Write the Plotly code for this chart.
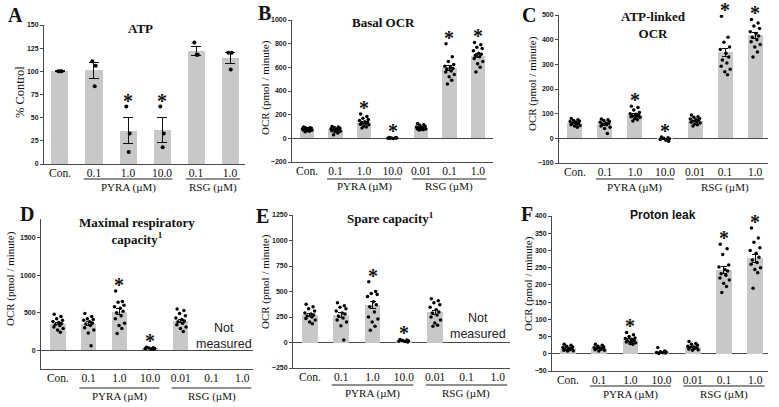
import plotly.graph_objects as go

W, H = 779, 407

# ---------------- data ----------------
cats_A = ["Con.", "0.1", "1.0", "10.0", "0.1", "1.0"]
cats_OCR = ["Con.", "0.1", "1.0", "10.0", "0.01", "0.1", "1.0"]
groups_A = [("PYRA (µM)", 1, 3), ("RSG (µM)", 4, 5)]
groups_OCR = [("PYRA (µM)", 1, 3), ("RSG (µM)", 4, 6)]

# A: ATP (% control)
atp_mean = [100, 101, 36, 37, 122, 114]
atp_sem = [0.4, 8.6, 14.4, 13.5, 4.5, 5.8]
atp_pts = [[100, 100, 100], [111, 106, 84], [62, 33, 13], [62, 33, 18],
           [131, 118, 118], [120, 120, 102]]
atp_sig = [0, 0, 1, 1, 0, 0]

# B: Basal OCR
basal_mean = [76, 75, 132, 3, 90, 592, 700]
basal_sem = [4, 5, 9, 1, 5, 22, 20]
basal_pts = [
    [95, 90, 88, 85, 82, 80, 78, 75, 72, 70, 68, 65, 60, 55],
    [100, 95, 90, 85, 82, 78, 75, 72, 70, 65, 60, 55, 45, 30],
    [205, 185, 170, 160, 150, 140, 135, 130, 125, 120, 115, 105, 95, 88],
    [8, 5, 3, 2, 0, -2, 4, 1],
    [125, 115, 110, 100, 95, 92, 90, 88, 85, 82, 78, 75, 72, 70],
    [800, 690, 650, 625, 610, 600, 590, 585, 570, 560, 540, 520, 490, 460],
    [810, 790, 770, 760, 740, 720, 710, 700, 690, 675, 650, 630, 600, 560],
]
basal_sig = [0, 0, 1, 1, 0, 1, 1]

# C: ATP-linked OCR
atpl_mean = [62, 58, 94, -2, 70, 348, 418]
atpl_sem = [3, 4, 6, 2, 3, 16, 12]
atpl_pts = [
    [80, 75, 72, 70, 68, 65, 62, 60, 58, 55, 52, 50, 45],
    [78, 75, 72, 68, 65, 62, 60, 58, 55, 50, 45, 40, 20],
    [130, 125, 115, 105, 100, 98, 95, 92, 90, 88, 85, 80, 75, 70],
    [5, 2, 0, -2, -5, -8, -12],
    [95, 88, 85, 80, 78, 75, 72, 70, 68, 65, 62, 58, 55, 50],
    [495, 410, 390, 370, 360, 345, 330, 318, 305, 292, 280, 270, 258],
    [482, 468, 455, 445, 432, 425, 415, 410, 400, 392, 380, 370, 350, 330],
]
atpl_sig = [0, 0, 1, 1, 0, 1, 1]

# D: Maximal respiratory capacity
max_mean = [355, 353, 513, 25, 390, None, None]
max_sem = [18, 28, 40, 3, 25, None, None]
max_pts = [
    [480, 450, 420, 400, 385, 370, 355, 340, 330, 310, 290, 270, 240],
    [490, 450, 420, 410, 400, 380, 360, 350, 330, 300, 270, 230, 60],
    [790, 650, 640, 600, 580, 560, 520, 500, 460, 420, 360, 330, 290, 225],
    [40, 35, 30, 25, 20, 18, 15],
    [550, 530, 490, 460, 430, 410, 390, 380, 360, 340, 310, 290, 250],
    [],
    [],
]
max_sig = [0, 0, 1, 1, 0, 0, 0]

# E: Spare capacity
spare_mean = [272, 266, 371, 15, 298, None, None]
spare_sem = [15, 25, 35, 3, 20, None, None]
spare_pts = [
    [375, 350, 330, 310, 290, 280, 270, 260, 250, 235, 220, 200, 185],
    [390, 360, 345, 330, 310, 290, 280, 260, 240, 220, 200, 165, 25],
    [595, 500, 480, 470, 450, 400, 370, 350, 300, 250, 230, 200, 160, 120],
    [30, 25, 20, 15, 12, 10, 5],
    [430, 410, 390, 370, 345, 320, 300, 290, 270, 250, 220, 190, 170, 160],
    [],
    [],
]
spare_sig = [0, 0, 1, 1, 0, 0, 0]

# F: Proton leak
leak_mean = [15, 17, 40, 5, 20, 244, 277]
leak_sem = [2, 2, 3, 1, 2, 10, 12]
leak_pts = [
    [28, 25, 22, 20, 18, 16, 15, 14, 12, 10, 9, 8],
    [28, 25, 22, 20, 18, 17, 16, 15, 13, 12, 10, 8],
    [62, 55, 50, 46, 44, 42, 40, 38, 36, 34, 32, 30, 28],
    [18, 8, 6, 5, 4, 3, 2, 1],
    [36, 30, 28, 25, 22, 20, 19, 18, 16, 14, 12, 10],
    [318, 305, 288, 258, 252, 245, 240, 232, 228, 220, 214, 205, 195, 178],
    [365, 336, 324, 308, 300, 292, 280, 272, 265, 260, 250, 245, 235, 190],
]
leak_sig = [0, 0, 1, 0, 0, 1, 1]

# ---------------- styling / layout ----------------
SERIF = "Liberation Serif"
SANS = "Liberation Sans"
BAR = "#c8c8c8"
AX = "#4a4a4a"
JIT_A = [-0.05, 0.05, 0.02]
JIT = [-0.12, 0.10, -0.04, 0.15, -0.16, 0.03, 0.12, -0.09, 0.06, -0.13, 0.17, -0.01, 0.08, -0.07]


def fx(p):
    return p / W


def fy(p):
    return 1 - p / H


panels = [
    dict(cats=cats_A, groups=groups_A, mean=atp_mean, sem=atp_sem, pts=atp_pts, sig=atp_sig,
         title="ATP", tfont=SERIF, tpos=(140, 28), letter="A", lpos=(16, 15),
         ytitle="% Control", ytsize=12.5, ytpos=(20, 92), box=(44, 245, 25, 164),
         xr=[-0.47, 5.44], yr=[0, 150], tv=list(range(0, 151, 25)), gl=(179, 187),
         jit=JIT_A, msize=4, cap=5, notmeas=None),
    dict(cats=cats_OCR, groups=groups_OCR, mean=basal_mean, sem=basal_sem, pts=basal_pts, sig=basal_sig,
         title="Basal OCR", tfont=SERIF, tpos=(383, 22), letter="B", lpos=(264, 13),
         ytitle="OCR (pmol / minute)", ytsize=11, ytpos=(265, 88), box=(292, 493, 20, 162),
         xr=[-0.53, 6.53], yr=[-200, 1000], tv=list(range(-200, 1001, 200)), gl=(179, 186),
         jit=JIT, msize=3.5, cap=3, notmeas=None),
    dict(cats=cats_OCR, groups=groups_OCR, mean=atpl_mean, sem=atpl_sem, pts=atpl_pts, sig=atpl_sig,
         title="ATP-linked<br>OCR", tfont=SERIF, tpos=(653, 25), letter="C", lpos=(529, 15),
         ytitle="OCR (pmol / minute)", ytsize=11, ytpos=(533, 84), box=(559, 768, 15, 163),
         xr=[-0.53, 6.43], yr=[-100, 500], tv=list(range(-100, 501, 100)), gl=(179, 187),
         jit=JIT, msize=3.5, cap=3, notmeas=None),
    dict(cats=cats_OCR, groups=groups_OCR, mean=max_mean, sem=max_sem, pts=max_pts, sig=max_sig,
         title="Maximal respiratory<br>capacity<sup>1</sup>", tfont=SERIF, tpos=(137, 231), letter="D",
         lpos=(27, 214), ytitle="OCR (pmol / minute)", ytsize=11, ytpos=(10, 279),
         box=(41, 253, 219, 369), xr=[-0.55, 6.35], yr=[-250, 1750], tv=[0, 500, 1000, 1500],
         gl=(388, 396), jit=JIT, msize=3.5, cap=3, notmeas=(224, 336)),
    dict(cats=cats_OCR, groups=groups_OCR, mean=spare_mean, sem=spare_sem, pts=spare_pts, sig=spare_sig,
         title="Spare capacity<sup>1</sup>", tfont=SERIF, tpos=(390, 218), letter="E", lpos=(262, 216),
         ytitle="OCR (pmol / minute)", ytsize=11, ytpos=(265, 282), box=(293, 510, 215, 368),
         xr=[-0.54, 6.39], yr=[-250, 1250], tv=list(range(-250, 1251, 250)), gl=(385, 393),
         jit=JIT, msize=3.5, cap=3, notmeas=(478, 326)),
    dict(cats=cats_OCR, groups=groups_OCR, mean=leak_mean, sem=leak_sem, pts=leak_pts, sig=leak_sig,
         title="Proton leak", tfont=SANS, tpos=(663, 215), letter="F", lpos=(527, 214),
         ytitle="OCR (pmol / minute)", ytsize=11, ytpos=(528, 284), box=(552, 768, 216, 371),
         xr=[-0.51, 6.41], yr=[-50, 400], tv=list(range(-50, 401, 50)), gl=(386, 394),
         jit=JIT, msize=3.5, cap=3, notmeas=None),
]

fig = go.Figure()
annotations = []
shapes = []
layout = {}


def ann(**kw):
    base = dict(showarrow=False, xanchor="center", yanchor="middle")
    base.update(kw)
    annotations.append(base)


for k, p in enumerate(panels, start=1):
    sfx = "" if k == 1 else str(k)
    xa, ya = "x" + sfx, "y" + sfx
    n = len(p["cats"])
    idx = list(range(n))

    fig.add_trace(go.Bar(
        x=idx, y=p["mean"], width=0.5, marker=dict(color=BAR, line=dict(width=0)),
        error_y=dict(type="data", array=p["sem"], color="#111111", thickness=1, width=p["cap"]),
        xaxis=xa, yaxis=ya, showlegend=False, hoverinfo="skip"))

    px_, py_ = [], []
    for i, vals in enumerate(p["pts"]):
        for j, v in enumerate(vals):
            px_.append(i + p["jit"][j % len(p["jit"])])
            py_.append(v)
    fig.add_trace(go.Scatter(
        x=px_, y=py_, mode="markers", marker=dict(color="black", size=p["msize"]),
        xaxis=xa, yaxis=ya, showlegend=False, hoverinfo="skip"))

    x0, x1, ytop, ybot = p["box"]
    layout["xaxis" + sfx] = dict(
        domain=[fx(x0), fx(x1)], anchor=ya, range=p["xr"], tickmode="array",
        tickvals=idx, ticktext=p["cats"], tickfont=dict(family=SERIF, size=11.5, color="#111"),
        ticklabelstandoff=-2,
        showline=True, linecolor=AX, linewidth=1, ticks="", showgrid=False, zeroline=False,
        fixedrange=True, automargin=False)
    layout["yaxis" + sfx] = dict(
        domain=[fy(ybot), fy(ytop)], anchor=xa, range=p["yr"], tickmode="array",
        tickvals=p["tv"], tickfont=dict(family=SANS, size=7, color="#222", weight="bold"),
        ticks="outside", ticklen=3, tickcolor=AX, showline=True, linecolor=AX, linewidth=1,
        showgrid=False, zeroline=p["yr"][0] < 0, zerolinecolor=AX, zerolinewidth=1,
        fixedrange=True, automargin=False)

    # significance asterisks
    for i, s in enumerate(p["sig"]):
        if s:
            top = max(p["pts"][i])
            ann(x=i, y=top, xref=xa, yref=ya, text="<b>*</b>", yshift=6,
                font=dict(family=SERIF, size=20, color="#111"))

    # group lines and labels
    for label, a, b in p["groups"]:
        shapes.append(dict(type="line", xref=xa, yref="paper", x0=a - 0.3, x1=b + 0.3,
                           y0=fy(p["gl"][0]), y1=fy(p["gl"][0]), line=dict(color="#222", width=1)))
        ann(x=(a + b) / 2, y=fy(p["gl"][1]), xref=xa, yref="paper", text=label,
            font=dict(family=SERIF, size=11, color="#111"))

    # title
    ann(x=fx(p["tpos"][0]), y=fy(p["tpos"][1]), xref="paper", yref="paper",
        text="<b>" + p["title"] + "</b>",
        font=dict(family=p["tfont"], size=13 if p["tfont"] == SERIF else 12, color="#111"))
    # panel letter
    ann(x=fx(p["lpos"][0]), y=fy(p["lpos"][1]), xref="paper", yref="paper",
        text="<b>" + p["letter"] + "</b>", font=dict(family=SERIF, size=20, color="#111"))
    # y-axis title
    ann(x=fx(p["ytpos"][0]), y=fy(p["ytpos"][1]), xref="paper", yref="paper",
        text=p["ytitle"], textangle=-90,
        font=dict(family=SERIF, size=p["ytsize"], color="#111"))
    if p["notmeas"]:
        ann(x=fx(p["notmeas"][0]), y=fy(p["notmeas"][1]), xref="paper", yref="paper",
            text="Not<br>measured", font=dict(family=SANS, size=12.5, color="#222"))

fig.update_layout(
    width=W, height=H, margin=dict(l=0, r=0, t=0, b=0, autoexpand=False),
    paper_bgcolor="white", plot_bgcolor="white", hovermode=False,
    annotations=annotations, shapes=shapes, bargap=0, **layout)

fig.write_html("out.html", config={"displayModeBar": False, "staticPlot": True},
               post_script="document.body.style.margin='0px';")
